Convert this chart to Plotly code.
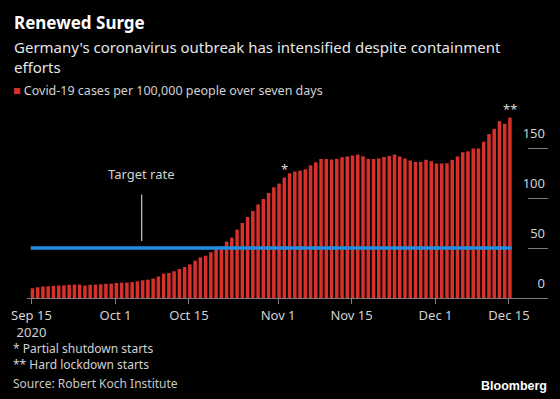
import pandas as pd
import plotly.graph_objects as go

# ---------------- data ----------------
start_date = "2020-09-15"
cases_per_100k = [
    9.7, 10.7, 11.5, 11.7, 12.2, 12.5, 12.7, 13.2, 13.4, 13.4,
    12.4, 13.2, 13.4, 13.7, 14.2, 14.4, 15.0, 15.4, 15.4, 15.9,
    16.7, 17.7, 18.4, 19.4, 21.5, 24.4, 25.0, 26.7, 29.0, 31.0,
    33.6, 37.3, 40.7, 42.3, 45.7, 48.8, 51.5, 56.4, 60.4, 68.4,
    75.0, 81.0, 87.0, 93.6, 99.0, 105.0, 110.7, 114.4, 120.4, 124.7,
    126.5, 127.4, 128.7, 132.7, 135.7, 139.0, 139.0, 138.4, 139.2, 140.7,
    141.4, 142.6, 143.4, 141.7, 139.0, 139.0, 139.5, 141.0, 142.0, 143.5,
    141.5, 139.5, 137.5, 136.0, 136.0, 138.2, 136.8, 134.4, 134.4, 134.8,
    138.2, 141.4, 145.7, 146.7, 149.4, 149.4, 156.3, 164.0, 169.2, 176.8,
    174.2, 180.4,
]
dates = pd.date_range(start_date, periods=len(cases_per_100k), freq="D")
target_rate = 50
tick_dates = ["2020-09-15", "2020-10-01", "2020-10-15", "2020-11-01",
              "2020-11-15", "2020-12-01", "2020-12-15"]
tick_labels = ["Sep 15<br>2020", "Oct 1", "Oct 15", "Nov 1", "Nov 15", "Dec 1", "Dec 15"]
y_ticks = [0, 50, 100, 150]
partial_shutdown_date = "2020-11-02"
hard_lockdown_date = "2020-12-15"
target_label_date = "2020-10-06"

# ---------------- style ----------------
W, H = 560, 399
L, R, T, B = 27, 12, 103, 101
RED = "#d8302a"
BLUE = "#1f8fe3"
TXT = "#d2d2d2"
AXC = "#7c7c7c"
FONT = "Noto Sans"
DAY = 86400000


def px(x):
    return (x - L) / (W - L - R)


def py(y):
    return (H - B - y) / (H - T - B)


fig = go.Figure()
fig.add_bar(
    x=dates, y=cases_per_100k, marker_color=RED, marker_line_width=0,
    width=0.67 * DAY, offset=-0.15 * DAY, showlegend=False, hoverinfo="skip",
)
line_x = [dates[0] - pd.Timedelta(hours=3.6), dates[-1] + pd.Timedelta(hours=12.5)]
fig.add_scatter(
    x=line_x, y=[target_rate, target_rate], mode="lines",
    line=dict(color=BLUE, width=3.5), showlegend=False, hoverinfo="skip",
)

ann = []
# title & subtitle
ann.append(dict(x=px(12), y=py(23), xref="paper", yref="paper", xanchor="left", yanchor="middle",
                text="<b>Renewed Surge</b>", showarrow=False,
                font=dict(family=FONT, size=17, color="#ffffff")))
ann.append(dict(x=px(12), y=py(35), xref="paper", yref="paper", xanchor="left", yanchor="top",
                align="left",
                text="Germany's coronavirus outbreak has intensified despite containment<br>efforts",
                showarrow=False, font=dict(family=FONT, size=15, color="#e6e6e6")))
ann.append(dict(x=px(11), y=py(90), xref="paper", yref="paper", xanchor="left", yanchor="middle",
                text=f"<span style='color:{RED}'>■</span> Covid-19 cases per 100,000 people over seven days",
                showarrow=False, font=dict(family=FONT, size=12.5, color=TXT)))
# footnotes
ann.append(dict(x=px(11), y=py(356), xref="paper", yref="paper", xanchor="left", yanchor="middle",
                align="left",
                text="* Partial shutdown starts<br>** Hard lockdown starts", showarrow=False,
                font=dict(family=FONT, size=12, color=TXT)))
ann.append(dict(x=px(11), y=py(383), xref="paper", yref="paper", xanchor="left", yanchor="middle",
                text="Source: Robert Koch Institute", showarrow=False,
                font=dict(family=FONT, size=12, color="#c8c8c8")))
ann.append(dict(x=px(549), y=py(386), xref="paper", yref="paper", xanchor="right", yanchor="middle",
                text="<b>Bloomberg</b>", showarrow=False,
                font=dict(family="Liberation Sans", size=12.5, color="#ffffff")))
# event markers
i_partial = list(dates).index(pd.Timestamp(partial_shutdown_date))
i_hard = list(dates).index(pd.Timestamp(hard_lockdown_date))
for idx, mark in [(i_partial, "*"), (i_hard, "**")]:
    ann.append(dict(x=dates[idx] + pd.Timedelta(hours=4), y=cases_per_100k[idx], xref="x", yref="y",
                    text=mark, showarrow=False, yanchor="bottom", yshift=-2,
                    font=dict(family=FONT, size=13, color="#dddddd")))
# target rate callout
ann.append(dict(x=target_label_date, y=target_rate + 7, xref="x", yref="y",
                text="Target rate", showarrow=True, arrowhead=0, arrowwidth=1.2,
                arrowcolor="#c8c8c8", ax=0, ay=-67, startstandoff=10,
                font=dict(family=FONT, size=13, color=TXT)))

fig.update_layout(
    width=W, height=H,
    margin=dict(l=L, r=R, t=T, b=B, pad=0),
    paper_bgcolor="#000000", plot_bgcolor="#000000",
    bargap=0.33,
    font=dict(family=FONT, color=TXT),
    annotations=ann,
    xaxis=dict(
        type="date", range=["2020-09-14 03:30", "2020-12-22 10:30"],
        tickvals=tick_dates, ticktext=tick_labels,
        ticks="outside", ticklen=5, tickcolor=AXC, tickwidth=1,
        showline=True, linecolor=AXC, linewidth=1,
        showgrid=False, zeroline=False,
        tickfont=dict(family=FONT, size=13, color=TXT),
    ),
    yaxis=dict(
        range=[0, 195], side="right", tickvals=y_ticks,
        ticks="inside", ticklen=20, tickcolor=AXC, tickwidth=1,
        ticklabelposition="inside top", ticklabelshift=-5,
        showgrid=False, zeroline=False, showline=False,
        tickfont=dict(family=FONT, size=13, color=TXT),
    ),
    showlegend=False,
)

fig.write_html(
    "out.html",
    config={"displayModeBar": False},
    post_script="document.body.style.margin='0';document.body.style.overflow='hidden';"
                "document.body.style.background='#000';",
)
